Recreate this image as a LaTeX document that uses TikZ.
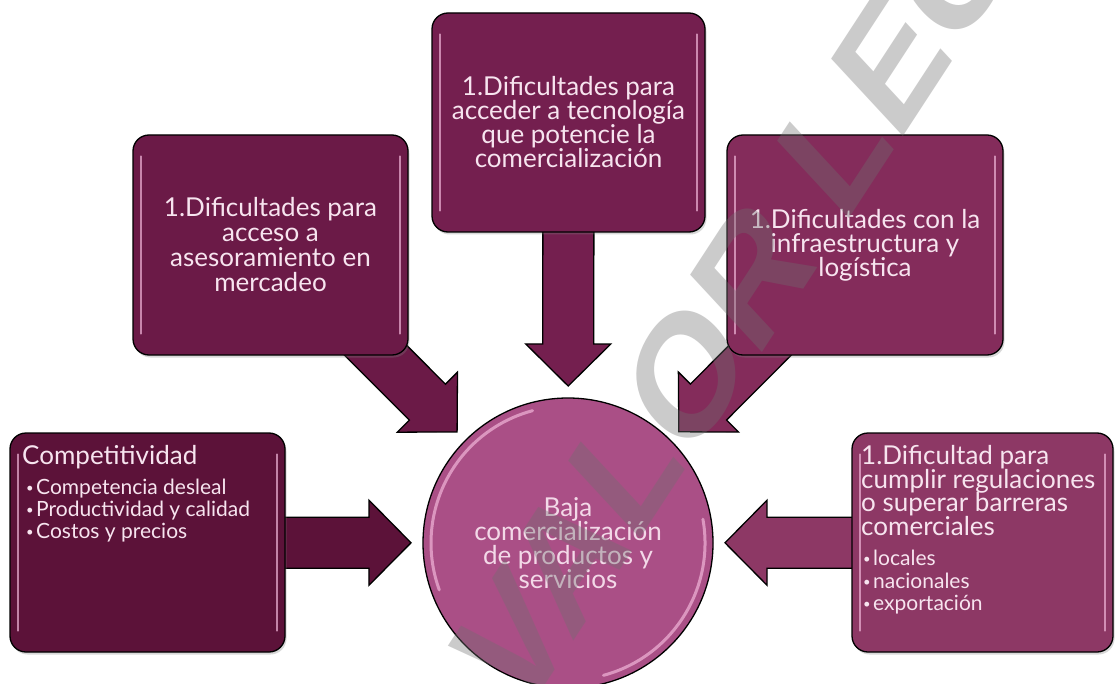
\documentclass[tikz,border=0pt]{standalone}
\usepackage{fontspec}
\setmainfont{Lato}
\newfontfamily\wmfont{Liberation Sans}
\usetikzlibrary{calc,shadows}
\pgfdeclarelayer{background}
\pgfsetlayers{background,main}
\definecolor{ccomp}{HTML}{5C1239}
\definecolor{cmerc}{HTML}{6B1A47}
\definecolor{ctech}{HTML}{741F4F}
\definecolor{cinfra}{HTML}{842C5B}
\definecolor{cregu}{HTML}{8D3865}
\definecolor{ccirc}{HTML}{AA4F86}
\definecolor{txt}{HTML}{F7E4EF}
\definecolor{txtc}{HTML}{F3D9E8}
\definecolor{hl}{HTML}{F0B5D8}
\definecolor{wmgray}{HTML}{6F6F6F}
\newcommand\blockarrow[3]{%
  \coordinate (#1-s) at (#1.center);
  \coordinate (#1-t) at ($(#2.center)!157pt!(#1.center)$);
  \coordinate (#1-b) at ($(#1-t)!42pt!(#1-s)$);
  \filldraw[fill=#3, draw=black, line width=1.3pt, line join=miter]
   ($(#1-s)!25.5pt!90:(#1-t)$) -- ($(#1-b)!25.5pt!90:(#1-t)$) -- ($(#1-b)!42.5pt!90:(#1-t)$) -- (#1-t) -- ($(#1-b)!42.5pt!-90:(#1-t)$) -- ($(#1-b)!25.5pt!-90:(#1-t)$) -- ($(#1-s)!25.5pt!-90:(#1-t)$) -- cycle;
}
\newcommand\gloss[1]{%
  \draw[glossline] ($(#1.north west)+(9,22)$) -- ($(#1.south west)+(9,-22)$);
  \draw[glossline] ($(#1.north east)+(-9,22)$) -- ($(#1.south east)+(-9,-22)$);
}
\newcommand\bl{\makebox[12pt][l]{\hspace{2pt}\raisebox{2pt}{\fontsize{13}{13}\selectfont\textbullet}}}
\begin{document}
\begin{tikzpicture}[x=1pt,y=-1pt,
  box/.style={rectangle, rounded corners=16pt, draw=black, line width=1.3pt, inner sep=0pt,
    text=txt, align=center, font=\fontsize{26}{24}\selectfont,
    drop shadow={shadow xshift=1.5pt, shadow yshift=-2.5pt, opacity=0.3}},
  ttl/.style={inner sep=0pt, anchor=base west, text=txt, font=\fontsize{26}{24}\selectfont},
  bul/.style={inner sep=0pt, anchor=base west, text=txt, font=\fontsize{21}{22}\selectfont},
  glossline/.style={line width=2.2pt, line cap=round, draw=hl, opacity=0.7}
]
\clip (0,0) rectangle (1115,684);
\useasboundingbox (0,0) rectangle (1115,684);

% boxes
\node[box, fill=ccomp, minimum width=275pt, minimum height=219pt] (comp) at (147.5,542.5) {};
\node[box, fill=cmerc, minimum width=275pt, minimum height=220pt, font=\fontsize{26}{25}\selectfont] (merc) at (270.5,245)
  {1.Dificultades para\\acceso a\\asesoramiento en\\mercadeo};
\node[box, fill=ctech, minimum width=273pt, minimum height=219pt] (tech) at (568.5,122.5)
  {1.Dificultades para\\acceder a tecnología\\que potencie la\\comercialización};
\node[box, fill=cinfra, minimum width=276pt, minimum height=220pt] (infra) at (865,245)
  {1.Dificultades con la\\infraestructura y\\logística};
\node[box, fill=cregu, minimum width=261pt, minimum height=219pt] (regu) at (982.5,542.5) {};
\node[circle, draw=black, line width=1.3pt, fill=ccirc, minimum size=290pt, inner sep=0pt,
  text=txtc, align=center, font=\fontsize{26}{24}\selectfont] (circ) at (568,543)
  {Baja\\comercialización\\de productos y\\servicios};

% arrows
\begin{pgfonlayer}{background}
\fill[white] (0,0) rectangle (1115,684);
\blockarrow{comp}{circ}{ccomp}
\blockarrow{merc}{circ}{cmerc}
\blockarrow{tech}{circ}{ctech}
\blockarrow{infra}{circ}{cinfra}
\blockarrow{regu}{circ}{cregu}
\end{pgfonlayer}

% gloss
\gloss{comp}\gloss{merc}\gloss{tech}\gloss{infra}\gloss{regu}
\draw[glossline, line width=3pt] ($(circ.center)+(160:137)$) arc[start angle=160, end angle=255, radius=137];
\draw[glossline, line width=3pt] ($(circ.center)+(-10:137)$) arc[start angle=-10, end angle=75, radius=137];

% texts of the left and right boxes
\node[ttl] (compT) at (22,464) {Competitividad};
\node[bul] (compB1) at (24,494) {\bl Competencia desleal};
\node[bul] (compB2) at (24,516) {\bl Productividad y calidad};
\node[bul] (compB3) at (24,538) {\bl Costos y precios};

\node[ttl] (reguT1) at (861,464) {1.Dificultad para};
\node[ttl] (reguT2) at (861,488) {cumplir regulaciones};
\node[ttl] (reguT3) at (861,511) {o superar barreras};
\node[ttl] (reguT4) at (861,535) {comerciales};
\node[bul] (reguB1) at (861,565) {\bl locales};
\node[bul] (reguB2) at (861,588) {\bl nacionales};
\node[bul] (reguB3) at (861,610) {\bl exportación};

% watermark
\begin{scope}[xscale=0.778, transform shape]
\node[inner sep=0pt, rotate=50, text=wmgray, opacity=0.36,
  font=\wmfont\bfseries\fontsize{175}{180}\selectfont] (wm) at (1020.6,210) {VALOR LEGAL};
\end{scope}
\end{tikzpicture}
\end{document}
